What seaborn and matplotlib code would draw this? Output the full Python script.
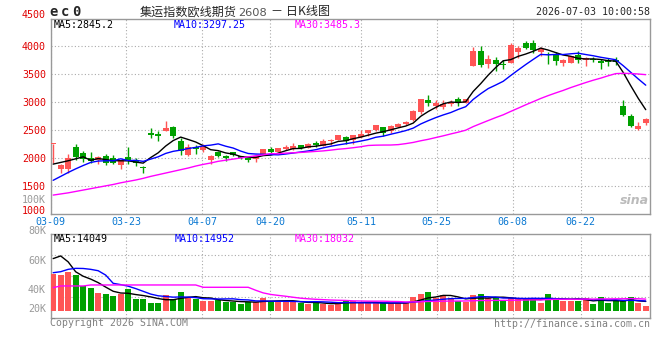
import numpy as np
import pandas as pd
import matplotlib
matplotlib.use("Agg")
import matplotlib.pyplot as plt
import seaborn as sns

# ---- values (80 trading days, 03-09 .. 07-03) ----
tick_days = [0, 10, 20, 29, 41, 51, 61, 70]
tick_labels = ["03-09", "03-23", "04-07", "04-20", "05-11", "05-25", "06-08", "06-22"]
price_ticks = [1500, 2000, 2500, 3000, 3500, 4000]

opens = [2243, 1791, 1805, 2196, 2085, 2000, 1960, 2036, 2003, 1865,
         2005, 1945, 1835, 2445, 2430, 2482, 2555, 2305, 2041, 2190,
         2140, 1952, 2095, 2036, 2095, 2024, 2006, 1976, 2050, 2150,
         2107, 2149, 2149, 2220, 2173, 2256, 2214, 2298, 2321, 2375,
         2316, 2370, 2434, 2488, 2548, 2482, 2554, 2595, 2679, 2821,
         3036, 2923, 2916, 2964, 3045, 2982, 3649, 3911, 3684, 3750,
         3684, 3702, 3898, 4062, 4048, 3887, 3857, 3857, 3697, 3702,
         3839, 3744, 3773, 3738, 3745, 3750, 2929, 2744, 2518, 2613]
highs = [2250, 1887, 2070, 2250, 2125, 2105, 2030, 2070, 2055, 1965,
         2195, 1990, 1857, 2535, 2470, 2650, 2560, 2355, 2250, 2232,
         2250, 2045, 2120, 2050, 2110, 2035, 2010, 2030, 2160, 2200,
         2170, 2232, 2255, 2235, 2262, 2295, 2330, 2335, 2410, 2390,
         2405, 2500, 2505, 2590, 2555, 2580, 2625, 2660, 2850, 3060,
         3125, 3030, 3030, 3030, 3095, 3050, 3975, 4005, 3845, 3800,
         3750, 4050, 4005, 4098, 4105, 3975, 3900, 3900, 3775, 3820,
         3910, 3800, 3800, 3775, 3780, 3800, 3040, 2785, 2637, 2710]
lows = [1900, 1732, 1730, 1965, 1920, 1900, 1890, 1865, 1880, 1800,
        1890, 1860, 1720, 2355, 2305, 2480, 2350, 2055, 2038, 2070,
        2110, 1887, 2010, 1935, 2035, 1985, 1918, 1917, 2045, 2085,
        2100, 2145, 2145, 2160, 2170, 2195, 2210, 2235, 2315, 2250,
        2250, 2360, 2395, 2480, 2395, 2450, 2545, 2580, 2665, 2775,
        2930, 2880, 2870, 2925, 2930, 2975, 3640, 3620, 3615, 3560,
        3585, 3695, 3780, 3950, 3880, 3830, 3685, 3665, 3650, 3700,
        3700, 3650, 3715, 3595, 3650, 3665, 2745, 2550, 2500, 2590]
closes = [2248, 1862, 1995, 2005, 1970, 1935, 2018, 1903, 1910, 1955,
          1935, 1905, 1808, 2410, 2380, 2541, 2395, 2120, 2196, 2155,
          2210, 2036, 2036, 1990, 2050, 1995, 1965, 2024, 2155, 2095,
          2166, 2184, 2214, 2173, 2238, 2220, 2291, 2310, 2399, 2304,
          2399, 2429, 2488, 2577, 2441, 2560, 2607, 2648, 2845, 3048,
          2988, 2977, 2970, 3005, 3005, 3048, 3911, 3667, 3768, 3684,
          3655, 4012, 3964, 3973, 3930, 3941, 3835, 3738, 3756, 3815,
          3756, 3780, 3745, 3702, 3708, 3720, 2762, 2560, 2571, 2691]
volumes = [56100, 54100, 59100, 54100, 37900, 34400, 27300, 25300, 22300, 24800,
           32400, 17700, 17700, 12100, 12100, 23800, 17300, 28300, 19700, 17700,
           15200, 15200, 15800, 13600, 13600, 10600, 13600, 13600, 18800, 15200,
           13200, 14700, 13600, 11200, 10200, 13200, 10200, 8600, 12100, 15800,
           14200, 11200, 11200, 11200, 11200, 12100, 12100, 11200, 20300, 25300,
           28300, 18800, 23300, 19700, 14200, 13600, 23800, 25300, 18800, 20300,
           14200, 18800, 18800, 17300, 17300, 12100, 25300, 19200, 15200, 15200,
           15200, 18800, 10200, 20300, 12100, 15200, 15200, 20300, 12100, 7600]

# moving averages before a full window is on screen
ma5_head = [1885, 1915, 1945, 1980]
ma10_head = [1595, 1665, 1735, 1800, 1860, 1915, 1940, 1945, 1945]
ma30_head = [1330, 1350, 1370, 1395, 1420, 1445, 1470, 1495, 1520, 1550,
             1575, 1600, 1630, 1665, 1695, 1725, 1755, 1785, 1815, 1850,
             1880, 1905, 1935, 1955, 1975, 1995, 2015, 2035, 2050]
vma5_head = [79000, 83000, 74000, 59000]
vma10_head = [57600, 59100, 62700, 64200, 64000, 62700, 60600, 54000, 41500]
vma30_head = [35000, 37500, 37500, 37500, 37500, 39000, 39000, 39000, 39000, 39000,
              39000, 39000, 39000, 39000, 39000, 39000, 39000, 39000, 39000, 39000,
              35500, 35500, 35500, 35500, 35500, 35500, 35500, 31000, 27000]

ma_text = ["MA5:2845.2", "MA10:3297.25", "MA30:3485.3"]
vma_text = ["MA5:14049", "MA10:14952", "MA30:18032"]
vol_labels = ["80K", "60K", "40K", "20K"]


def moving_avg(values, n, head):
    s = pd.Series(values, dtype=float).rolling(n).mean()
    s.iloc[:n - 1] = head
    return s.to_numpy()


RED = "#ff5555"
GREEN = "#00a000"
MA_COLORS = ["black", "#0000ff", "#ff00ff"]
GRID = dict(color="#aaaaaa", lw=0.8, ls=(0, (1, 2)))
MONO = "DejaVu Sans Mono"
TICK_RED = "#e00000"

sns.set_style("white")
plt.rcParams["font.family"] = [MONO, "Noto Sans CJK SC"]

df = pd.DataFrame({"open": opens, "high": highs, "low": lows, "close": closes, "vol": volumes})
df["day"] = np.arange(len(df))
df["color"] = np.where(df["close"] >= df["open"], RED, GREEN)
df["ma5"] = moving_avg(closes, 5, ma5_head)
df["ma10"] = moving_avg(closes, 10, ma10_head)
df["ma30"] = moving_avg(closes, 30, ma30_head)
df["vma5"] = moving_avg(volumes, 5, vma5_head)
df["vma10"] = moving_avg(volumes, 10, vma10_head)
df["vma30"] = moving_avg(volumes, 30, vma30_head)

W, H = 660, 360
fig = plt.figure(figsize=(W / 100, H / 100), dpi=100)


def put(x, y, s, **kw):
    fig.text(x / W, 1 - y / H, s, **kw)


L, R = 50.7, 650
ax = fig.add_axes([L / W, 1 - 213.5 / H, (R - L) / W, (213.5 - 19.3) / H])
axv = fig.add_axes([L / W, 1 - 317.7 / H, (R - L) / W, (317.7 - 234.3) / H])

xlim = (-0.33, 79.57)
tick_pos = [d * 1.0095 - 0.33 for d in tick_days]

# price panel: candles
ax.vlines(df["day"], df["low"], df["high"], colors=df["color"], lw=1, zorder=3)
body = np.maximum((df["close"] - df["open"]).abs(), 14)
ax.bar(df["day"], body, bottom=np.minimum(df["open"], df["close"]),
       width=0.8, color=df["color"], lw=0, zorder=4)
for col, c in zip(["ma5", "ma10", "ma30"], MA_COLORS):
    sns.lineplot(data=df, x="day", y=col, ax=ax, color=c, lw=1,
                 estimator=None, sort=False, zorder=5)

ax.set_xlim(*xlim)
ax.set_ylim(1000, 4480)
ax.set_yticks(price_ticks)
ax.set_xticks(tick_pos)
ax.set_xticklabels(tick_labels)
ax.grid(True, **GRID)
ax.set_xlabel("")
ax.set_ylabel("")
ax.tick_params(axis="y", length=0, pad=3.4, labelcolor=TICK_RED, labelsize=7.2)
ax.tick_params(axis="x", length=0, pad=2.4, labelcolor="#0a78d2", labelsize=7.2)
for sp in ax.spines.values():
    sp.set_color("#999999")
    sp.set_linewidth(1)

# volume panel
axv.bar(df["day"], df["vol"], width=0.8, color=df["color"], lw=0, zorder=3)
for col, c in zip(["vma5", "vma10", "vma30"], MA_COLORS):
    sns.lineplot(data=df, x="day", y=col, ax=axv, color=c, lw=1,
                 estimator=None, sort=False, zorder=5)
vlo, vhi = -10600, 115800
axv.set_xlim(*xlim)
axv.set_ylim(vlo, vhi)
axv.set_yticks([vlo + f * (vhi - vlo) for f in (0.25, 0.5, 0.75)])
axv.set_yticklabels([])
axv.set_xticks(tick_pos)
axv.set_xticklabels([])
axv.grid(True, **GRID)
axv.set_xlabel("")
axv.set_ylabel("")
axv.tick_params(length=0)
for sp in axv.spines.values():
    sp.set_color("#999999")
    sp.set_linewidth(1)

# header texts
put(46, 15.5, "4500", color=TICK_RED, fontsize=7.2, ha="right", va="center")
put(46, 210.5, "1000", color=TICK_RED, fontsize=7.2, ha="right", va="center")
for x, ch in zip([53.8, 64.7, 76.3], "ec0"):
    put(x, 16, ch, fontsize=10, fontweight="bold", ha="center", va="baseline")
put(140, 12, "集运指数欧线期货", family="Noto Sans CJK SC", fontsize=8.7,
    ha="left", va="center")
put(238, 12.5, "2608", family="DejaVu Sans", fontsize=8.2, color="#555555",
    ha="left", va="center")
put(271, 12, "－ 日K线图", family=["Noto Sans CJK SC", "DejaVu Sans"],
    fontsize=8.7, ha="left", va="center")
put(650, 12, "2026-07-03 10:00:58", fontsize=7.2, ha="right", va="center")

for x, s, c in zip([54, 174, 295], ma_text, MA_COLORS):
    put(x, 24.5, s, color=c, fontsize=7.2, ha="left", va="center")
for x, s, c in zip([54, 175, 295], vma_text, MA_COLORS):
    put(x, 238.5, s, color=c, fontsize=7.2, ha="left", va="center")

put(46, 200.2, "100K", color="#999999", fontsize=7.2, ha="right", va="center")
for y, s in zip([231, 260.7, 290, 309.3], vol_labels):
    put(46, y, s, color="#999999", fontsize=7.2, ha="right", va="center")

put(50, 323.5, "Copyright 2026 SINA.COM", color="#808080", fontsize=7.1,
    ha="left", va="center")
put(650, 324, "http://finance.sina.com.cn", color="#808080", fontsize=7.1,
    ha="right", va="center")
put(634, 201, "sina", family="DejaVu Sans", fontsize=9, fontstyle="italic",
    fontweight="bold", color="#bbbbbb", ha="center", va="center")

fig.savefig("out.png", dpi=100)
